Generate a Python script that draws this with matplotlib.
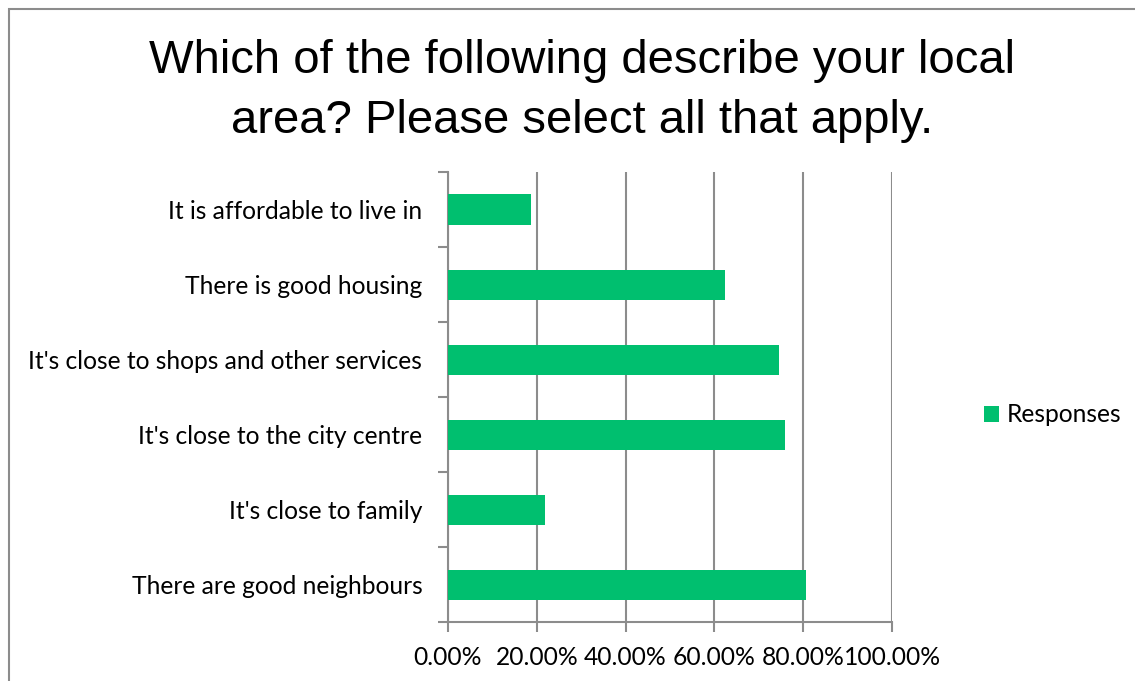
import matplotlib
matplotlib.use("Agg")
import matplotlib.pyplot as plt
from matplotlib.patches import Rectangle
from matplotlib.ticker import FixedLocator, PercentFormatter

# data, top to bottom as shown
categories = ["It is affordable to live in",
              "There is good housing",
              "It's close to shops and other services",
              "It's close to the city centre",
              "It's close to family",
              "There are good neighbours"]
responses = [18.8, 62.4, 74.5, 76.0, 21.8, 80.6]
xticks = [0, 20, 40, 60, 80, 100]

green = "#00BF6F"
grey = "#8C8C8C"
lab_font = "Lato"
lab_size = 17.7

fig = plt.figure(figsize=(11.35, 6.81), dpi=100)
ax = fig.add_axes([448/1135, 1-622/681, (892-448)/1135, (622-172)/681])

ypos = list(range(len(categories)))[::-1]
ax.barh(ypos, responses, height=0.4, color=green, label="Responses", zorder=3)

ax.set_xlim(0, 100)
ax.set_ylim(-0.5, len(categories)-0.5)
ax.set_xticks(xticks)
ax.xaxis.set_major_formatter(PercentFormatter(decimals=2))
ax.grid(axis="x", color=grey, linewidth=1.5, zorder=0)

ax.set_yticks(ypos)
ax.set_yticklabels(categories)
ax.yaxis.set_minor_locator(FixedLocator([i-0.5 for i in range(len(categories)+1)]))
ax.tick_params(axis="y", which="major", length=0, pad=18.5)
ax.tick_params(axis="y", which="minor", length=7, width=1.5, color=grey)
ax.tick_params(axis="x", length=7, width=1.5, color=grey, pad=10)

for lbl in ax.get_yticklabels() + ax.get_xticklabels():
    lbl.set_fontfamily(lab_font)
    lbl.set_fontsize(lab_size)

for s in ["top", "right"]:
    ax.spines[s].set_visible(False)
for s in ["left", "bottom"]:
    ax.spines[s].set_color(grey)
    ax.spines[s].set_linewidth(1.5)

fig.text(582/1135, 1-91/681, "Which of the following describe your local\narea? Please select all that apply.",
         ha="center", va="center", fontsize=34, family="Liberation Sans", linespacing=1.47)

leg = fig.legend(loc="center left", bbox_to_anchor=(962/1135, 1-415/681), frameon=False,
                 handlelength=0.6, handleheight=0.6, handletextpad=0.33,
                 prop={"family": lab_font, "size": lab_size})

fig.patches.append(Rectangle((9/1135, -0.1), 1.2, 1.1-9/681, transform=fig.transFigure,
                             fill=False, edgecolor=grey, linewidth=1.5))

fig.savefig("out.png", dpi=100)
